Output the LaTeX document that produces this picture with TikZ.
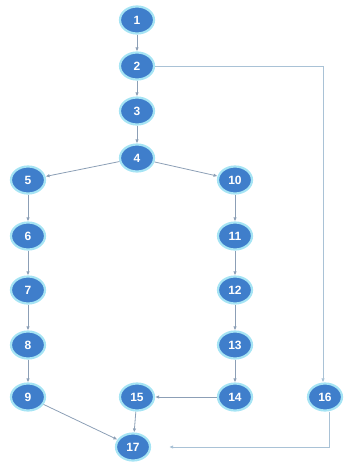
\documentclass[tikz,border=0pt]{standalone}
\usepackage{fontspec}
\setsansfont{Liberation Sans}
\usepackage{tikz}
\usetikzlibrary{arrows.meta,shapes.geometric,calc}
\definecolor{nodeblue}{HTML}{3F7ECB}
\definecolor{glowcyan}{HTML}{A6E4F4}
\definecolor{edgegray}{HTML}{8C9FB6}
\definecolor{edgelight}{HTML}{A9C2D6}

\tikzset{
  flownode/.style={ellipse, fill=nodeblue, draw=glowcyan, line width=2.2pt,
    minimum width=34pt, minimum height=27pt, inner sep=0pt,
    text=white, font=\sffamily\bfseries\fontsize{12}{12}\selectfont},
  flowedge/.style={draw=edgegray, line width=0.8pt, -{Latex[length=4pt,width=3.5pt]}}
}

\begin{document}
\begin{tikzpicture}[x=1pt,y=-1pt]
\useasboundingbox (0,0) rectangle (344,464);
% main column
\node[flownode] (n1) at (137,20) {1};
\node[flownode] (n2) at (137,66) {2};
\node[flownode] (n3) at (137,111) {3};
\node[flownode] (n4) at (137,158) {4};
% left branch
\node[flownode] (n5) at (28,180) {5};
\node[flownode] (n6) at (28,236) {6};
\node[flownode] (n7) at (28,290) {7};
\node[flownode] (n8) at (28,345) {8};
\node[flownode] (n9) at (28,397) {9};
% right branch
\node[flownode] (n10) at (235,180) {10};
\node[flownode] (n11) at (235,236) {11};
\node[flownode] (n12) at (235,290) {12};
\node[flownode] (n13) at (235,345) {13};
\node[flownode] (n14) at (235,397) {14};
\node[flownode] (n15) at (137,397) {15};
\node[flownode] (n16) at (325,397) {16};
\node[flownode] (n17) at (133,447) {17};
\coordinate (c16) at (n16 |- n2);
\coordinate (c17) at ($(n17.east)+(18,0)$);

\draw[flowedge] (n1) -- (n2);
\draw[flowedge] (n2) -- (n3);
\draw[flowedge] (n3) -- (n4);
\draw[flowedge] (n4) -- (n5);
\draw[flowedge] (n4) -- (n10);
\draw[flowedge] (n5) -- (n6);
\draw[flowedge] (n6) -- (n7);
\draw[flowedge] (n7) -- (n8);
\draw[flowedge] (n8) -- (n9);
\draw[flowedge] (n9) -- (n17);
\draw[flowedge] (n10) -- (n11);
\draw[flowedge] (n11) -- (n12);
\draw[flowedge] (n12) -- (n13);
\draw[flowedge] (n13) -- (n14);
\draw[flowedge] (n14) -- (n15);
\draw[flowedge] (n15) -- (n17);
\draw[flowedge, draw=edgelight] (n2) -- ([xshift=-2pt]c16) -- ([xshift=-2pt]n16.north);
\draw[flowedge, draw=edgelight] ([xshift=4pt]n16.south) |- (c17);
\end{tikzpicture}
\end{document}
